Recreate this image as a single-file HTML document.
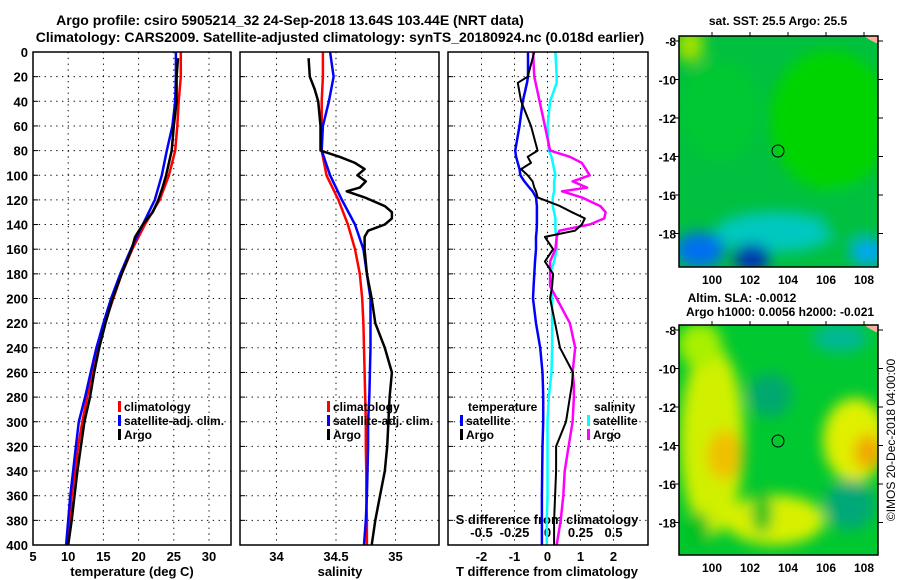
<!DOCTYPE html>
<html><head><meta charset="utf-8">
<style>
body{margin:0;background:#fff;}
svg{display:block;font-family:"Liberation Sans",sans-serif;font-weight:bold;}
</style></head>
<body>
<svg id="c" width="900" height="580" viewBox="0 0 900 580" xmlns="http://www.w3.org/2000/svg">
<defs>
<filter id="bl" x="-50%" y="-50%" width="200%" height="200%"><feGaussianBlur stdDeviation="7"/></filter>
<clipPath id="m1c"><rect x="679" y="36" width="199" height="231"/></clipPath>
<clipPath id="m2c"><rect x="679" y="325" width="199" height="230"/></clipPath>
</defs>
<text x="290" y="25" font-size="14" text-anchor="middle">Argo profile: csiro 5905214_32 24-Sep-2018 13.64S 103.44E (NRT data)</text>
<text x="340" y="42" font-size="14" text-anchor="middle">Climatology: CARS2009. Satellite-adjusted climatology: synTS_20180924.nc (0.018d earlier)</text>
<g id="maps">
<text x="778" y="25" font-size="12" text-anchor="middle">sat. SST: 25.5 Argo: 25.5</text>
<g clip-path="url(#m1c)">
<rect x="679" y="36" width="199" height="231" fill="#00c040"/>
<g filter="url(#bl)">
<ellipse cx="830" cy="120" rx="60" ry="70" fill="#00d400"/>
<ellipse cx="720" cy="110" rx="40" ry="50" fill="#00c830"/>
<ellipse cx="690" cy="45" rx="14" ry="18" fill="#a0e000"/>
<ellipse cx="775" cy="232" rx="60" ry="20" fill="#00c8c0"/>
<ellipse cx="700" cy="250" rx="25" ry="18" fill="#0070f0"/>
<ellipse cx="752" cy="258" rx="18" ry="14" fill="#0030b0"/>
<ellipse cx="868" cy="252" rx="18" ry="14" fill="#00a8f0"/>
<ellipse cx="845" cy="215" rx="25" ry="25" fill="#00c040"/>
</g>
<polygon points="864,36 878,36 878,44 870,40" fill="#f8b0a0"/>
</g>
<rect x="679" y="36" width="199" height="231" fill="none" stroke="#000" stroke-width="1.5"/>
<circle cx="778" cy="151" r="6" fill="none" stroke="#000"/>
<text x="742" y="302" font-size="12" text-anchor="middle">Altim. SLA: -0.0012</text>
<text x="780" y="316" font-size="12" text-anchor="middle">Argo h1000: 0.0056 h2000: -0.021</text>
<g clip-path="url(#m2c)">
<rect x="679" y="325" width="199" height="230" fill="#00c830"/>
<g filter="url(#bl)">
<ellipse cx="712" cy="440" rx="32" ry="95" fill="#d0f000"/>
<ellipse cx="725" cy="455" rx="18" ry="25" fill="#f0c000"/>
<ellipse cx="855" cy="440" rx="32" ry="42" fill="#e0f000"/>
<ellipse cx="868" cy="452" rx="14" ry="18" fill="#f0a800"/>
<ellipse cx="700" cy="345" rx="22" ry="22" fill="#a8f000"/>
<ellipse cx="775" cy="520" rx="50" ry="25" fill="#d8f000"/>
<ellipse cx="762" cy="512" rx="10" ry="22" fill="#00c020"/>
<ellipse cx="698" cy="530" rx="12" ry="18" fill="#00c020"/>
<ellipse cx="850" cy="505" rx="25" ry="25" fill="#00a878"/>
<ellipse cx="770" cy="395" rx="22" ry="22" fill="#00a870"/>
<ellipse cx="840" cy="338" rx="28" ry="14" fill="#00b898"/>
</g>
<polygon points="864,325 878,325 878,333 870,329" fill="#f8b0a0"/>
</g>
<rect x="679" y="325" width="199" height="230" fill="none" stroke="#000" stroke-width="1.5"/>
<circle cx="778" cy="441" r="6" fill="none" stroke="#000"/>
<text transform="translate(895,440) rotate(-90)" font-size="12" font-weight="normal" text-anchor="middle">©IMOS 20-Dec-2018 04:00:00</text>
</g>
<g id="plot"></g>
</svg>
<script>
const depths=[0,20,40,60,80,100,120,140,160,180,200,220,240,260,280,300,320,340,360,380,400];
const tClim=[26.0,26.0,25.7,25.5,25.2,24.3,23.0,20.9,19.1,17.6,16.4,15.2,14.2,13.4,12.7,12.0,11.4,11.0,10.5,10.3,9.9];
const tSat=[25.3,25.3,25.2,24.8,24.0,23.3,22.3,20.6,18.9,17.4,16.1,15.0,14.0,13.2,12.4,11.5,11.1,10.7,10.3,10.0,9.7];
const argoDepths=[5,20,40,60,80,90,100,110,120,130,140,150,160,180,200,220,240,260,280,300,320,340,360,380,400];
const tArgo=[25.6,25.4,25.4,25.0,24.7,24.3,23.9,23.4,22.8,22.0,20.6,19.5,19.0,17.6,16.3,15.3,14.4,13.7,13.1,12.3,11.8,11.3,10.9,10.5,10.0];
const sClim=[34.39,34.39,34.38,34.38,34.38,34.42,34.52,34.60,34.66,34.70,34.72,34.73,34.735,34.74,34.745,34.75,34.75,34.755,34.755,34.76,34.76];
const sSat=[34.45,34.48,34.44,34.39,34.38,34.45,34.55,34.66,34.73,34.76,34.79,34.79,34.79,34.785,34.78,34.77,34.77,34.765,34.76,34.75,34.735];
const sArgoDepths=[5,20,30,40,60,80,85,90,95,100,105,110,113,118,125,130,135,140,145,150,160,180,200,220,240,260,280,300,320,340,360,380,400];
const sArgo=[34.27,34.28,34.32,34.35,34.37,34.37,34.53,34.66,34.74,34.68,34.75,34.70,34.59,34.74,34.91,34.97,34.97,34.91,34.77,34.74,34.74,34.76,34.80,34.83,34.91,34.97,34.95,34.94,34.93,34.91,34.87,34.83,34.80];
const dDepths=[0,20,25,40,60,80,85,90,95,100,105,110,113,118,125,130,135,140,145,150,160,170,180,190,200,220,240,260,270,280,300,320,340,360,380,400];
const dTSat=[-0.59,-0.59,-0.62,-0.75,-0.85,-0.98,-0.95,-0.9,-0.85,-0.82,-0.7,-0.55,-0.45,-0.35,-0.32,-0.32,-0.32,-0.32,-0.33,-0.35,-0.35,-0.38,-0.4,-0.42,-0.44,-0.35,-0.22,-0.15,-0.14,-0.13,-0.13,-0.15,-0.16,-0.17,-0.17,-0.17];
const dTArgo=[-0.4,-0.6,-0.9,-0.8,-0.5,-0.3,-0.6,-0.5,-0.8,-0.6,-0.45,-0.4,-0.35,-0.3,0.38,0.74,1.13,1.04,0.83,-0.08,0.17,-0.08,0.17,0.14,0.08,0.23,0.38,0.77,0.74,0.68,0.56,0.26,0.26,0.23,0.2,0.2];
const dSSat=[0.06,0.07,0.07,0.02,0.0,0.01,0.03,0.04,0.05,0.06,0.05,0.05,0.05,0.04,0.04,0.05,0.06,0.06,0.06,0.07,0.07,0.05,0.02,0.03,0.035,0.035,0.035,0.03,0.02,0.01,0.0,0.0,0.0,0.0,-0.005,-0.005];
const dSArgo=[-0.11,-0.1,-0.09,-0.06,-0.02,0.02,0.17,0.26,0.29,0.32,0.19,0.30,0.11,0.26,0.40,0.44,0.43,0.32,0.09,0.07,0.06,0.02,0.02,0.02,0.07,0.17,0.21,0.19,0.2,0.2,0.19,0.16,0.13,0.12,0.10,0.07];
const depthTicks=[0,20,40,60,80,100,120,140,160,180,200,220,240,260,280,300,320,340,360,380,400];
const tTicks=[5,10,15,20,25,30];
const sTicks=[34,34.5,35];
const dTTicks=[-2,-1,0,1,2];
const dSTicks=[-0.5,-0.25,0,0.25,0.5];
const latTicks=[-8,-10,-12,-14,-16,-18];
const lonTicks=[100,102,104,106,108];

const NS='http://www.w3.org/2000/svg';
const root=document.getElementById('plot');
function el(tag,attrs,parent){const e=document.createElementNS(NS,tag);for(const k in attrs)e.setAttribute(k,attrs[k]);(parent||root).appendChild(e);return e;}
const Y0=52,Y1=545;
const yD=d=>Y0+(d/400)*(Y1-Y0);
const xT=t=>33+(t-5)*7.04;
const xS=s=>276.5+(s-34)*119;
const xdT=v=>547.5+v*33;
const xdS=v=>547.5+v*132;
const panels=[{x0:33,x1:231,name:'temperature-panel'},{x0:240,x1:439,name:'salinity-panel'},{x0:448,x1:648,name:'t-difference-panel'}];
panels.forEach((p,i)=>{
  const g=el('g',{});
  
  
  depthTicks.forEach(d=>{if(d>0&&d<400){const l=el('line',{x1:p.x0,x2:p.x1,y1:yD(d),y2:yD(d),stroke:'#000','stroke-dasharray':'1.3 4.5'},g);
    
    }
    const t1=el('line',{x1:p.x0,x2:p.x0+5,y1:yD(d),y2:yD(d),stroke:'#000'},g);
    
    
  });
  const vt=i==0?tTicks.map(xT):i==1?sTicks.map(xS):dTTicks.map(xdT);
  vt.forEach(x=>{if(x>p.x0+1&&x<p.x1-1){const l=el('line',{x1:x,x2:x,y1:Y0,y2:Y1,stroke:'#000','stroke-dasharray':'1.3 4.5'},g);
    
    }});
});
depthTicks.forEach(d=>{const t=el('text',{x:28,y:yD(d)+5,'font-size':13,'text-anchor':'end'});t.textContent=d;
  
  });
tTicks.forEach(v=>{const t=el('text',{x:xT(v),y:561,'font-size':13,'text-anchor':'middle'});t.textContent=v;
  
  });
sTicks.forEach(v=>{const t=el('text',{x:xS(v),y:561,'font-size':13,'text-anchor':'middle'});t.textContent=v;
  
  });
dTTicks.forEach(v=>{const t=el('text',{x:xdT(v),y:561,'font-size':13,'text-anchor':'middle'});t.textContent=v;
  
  });
dSTicks.forEach(v=>{const t=el('text',{x:xdS(v),y:537,'font-size':13,'text-anchor':'middle'});t.textContent=v;
  
  });
[['temperature (deg C)',132,'temperature-axis-title'],['salinity',340,'salinity-axis-title'],['T difference from climatology',547,'tdiff-axis-title']].forEach(a=>{
  const t=el('text',{x:a[1],y:576,'font-size':13,'text-anchor':'middle'});t.textContent=a[0];
  
  });
const st=el('text',{x:547,y:524,'font-size':13,'text-anchor':'middle'});st.textContent='S difference from climatology';



function line(ds,vs,fx,color,w,name){
  const pts=ds.map((d,i)=>fx(vs[i]).toFixed(1)+','+yD(d).toFixed(1)).join(' ');
  const l=el('polyline',{points:pts,fill:'none',stroke:color,'stroke-width':w,'stroke-linejoin':'round'});
  
  
}
line(depths,tClim,xT,'#f00',2.5,'temperature-climatology-line');
line(depths,tSat,xT,'#00f',2.5,'temperature-satellite-line');
line(argoDepths,tArgo,xT,'#000',2.5,'temperature-argo-line');
line(depths,sClim,xS,'#f00',2.5,'salinity-climatology-line');
line(depths,sSat,xS,'#00f',2.5,'salinity-satellite-line');
line(sArgoDepths,sArgo,xS,'#000',2.5,'salinity-argo-line');
line(dDepths,dSSat,xdS,'#0ff',2.5,'sdiff-satellite-line');
line(dDepths,dSArgo,xdS,'#f0f',2.5,'sdiff-argo-line');
line(dDepths,dTSat,xdT,'#00f',2.5,'tdiff-satellite-line');
line(dDepths,dTArgo,xdT,'#000',2,'tdiff-argo-line');

panels.forEach(p=>{const r=el('rect',{x:p.x0,y:Y0,width:p.x1-p.x0,height:Y1-Y0,fill:'none',stroke:'#000','stroke-width':1.5});
  
  });

function legend(x,y,items,prefix){items.forEach((it,i)=>{
  const yy=y+i*14;
  const m=el('rect',{x:x,y:yy-6,width:3,height:11,fill:it[1]});
  
  
  const t=el('text',{x:x+6,y:yy+4,'font-size':12});t.textContent=it[0];
  
  
});}
legend(118,407,[['climatology','#f00'],['satellite-adj. clim.','#00f'],['Argo','#000']],'temperature');
legend(327,407,[['climatology','#f00'],['satellite-adj. clim.','#00f'],['Argo','#000']],'salinity');
const tt=el('text',{x:468,y:411,'font-size':12});tt.textContent='temperature';


legend(460,421,[['satellite','#00f'],['Argo','#000']],'tdiff');
const sl=el('text',{x:594,y:411,'font-size':12});sl.textContent='salinity';


legend(587,421,[['satellite','#0ff'],['Argo','#f0f']],'sdiff');

[[36,267],[325,555]].forEach((m,mi)=>{
  const top=m[0],bot=m[1];
  const yLat=l=>top+5+(-8-l)/2*38.5;
  latTicks.forEach(l=>{const y=yLat(l);
    const t=el('text',{x:676,y:y+5,'font-size':12,'text-anchor':'end'});t.textContent=l;
    
    
    el('line',{x1:878,x2:883,y1:y,y2:y,stroke:'#000'});
    el('line',{x1:674,x2:679,y1:y,y2:y,stroke:'#000'});
  });
  lonTicks.forEach(lo=>{const x=712+(lo-100)*19;
    const t=el('text',{x:x,y:bot+17,'font-size':12,'text-anchor':'middle'});t.textContent=lo;
    
    
    el('line',{x1:x,x2:x,y1:top-4,y2:top,stroke:'#000'});
  });
});
</script>
</body></html>
